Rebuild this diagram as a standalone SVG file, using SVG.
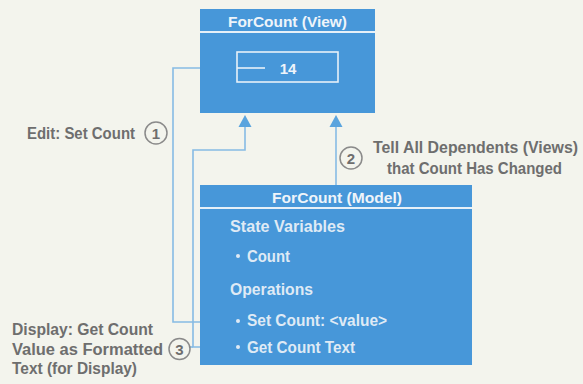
<svg xmlns="http://www.w3.org/2000/svg" width="583" height="384" viewBox="0 0 583 384">
<style>
.box{fill:#4797d9}
.sep{stroke:#e6f0f8;stroke-width:2}
.wt{font-family:"Liberation Sans",Arial,sans-serif;font-weight:bold;fill:#eef4fa}
.mt{font-family:"Liberation Sans",Arial,sans-serif;font-weight:bold;fill:#dfeaf5;font-size:16px}
.lbl{font-family:"Liberation Sans",Arial,sans-serif;font-weight:bold;fill:#6e6e6e;font-size:16px}
.conn{fill:none;stroke:#86bbe4;stroke-width:1.6}
.ah{fill:#5aa4de}
.num{fill:none;stroke:#8a8a8a;stroke-width:1.5}
.numt{font-family:"Liberation Sans",Arial,sans-serif;font-weight:bold;fill:#6e6e6e;font-size:15px;text-anchor:middle}
.dot{fill:#dfeaf5}
</style>
<rect width="583" height="384" fill="#f3f4ed"/>

<g id="connectors">
  <path class="conn" d="M265,68 H173 V322 H218"/>
  <polygon class="ah" points="229,322 215,315 218,322 215,329"/>
  <path class="conn" d="M245,126 V150 H193 V347 H237"/>
  <path class="conn" d="M190,347 H193"/>
  <polygon class="ah" points="245,115 238.5,127 251.5,127"/>
  <path class="conn" d="M336,126 V185"/>
  <polygon class="ah" points="336,115 329.5,127 342.5,127"/>
</g>

<g id="view">
  <rect class="box" x="200" y="9" width="175" height="104"/>
  <line class="sep" x1="200" y1="32" x2="375" y2="32"/>
  <text class="wt" x="228" y="27" font-size="15" textLength="119" lengthAdjust="spacingAndGlyphs">ForCount (View)</text>
  <rect x="237" y="52" width="101" height="30" fill="none" stroke="#e6f0f8" stroke-width="1.6"/>
  <line x1="237" y1="68" x2="265" y2="68" stroke="#e6f0f8" stroke-width="1.6"/>
  <text class="wt" x="288" y="74" font-size="15" text-anchor="middle">14</text>
</g>

<g id="model">
  <rect class="box" x="200" y="185" width="272" height="180"/>
  <line class="sep" x1="200" y1="208" x2="472" y2="208"/>
  <text class="wt" x="272" y="203" font-size="15" textLength="130" lengthAdjust="spacingAndGlyphs">ForCount (Model)</text>
  <text class="mt" x="230" y="232" textLength="115" lengthAdjust="spacingAndGlyphs">State Variables</text>
  <circle class="dot" cx="238" cy="256" r="2"/>
  <text class="mt" x="247" y="262" textLength="43" lengthAdjust="spacingAndGlyphs">Count</text>
  <text class="mt" x="230" y="295" textLength="83" lengthAdjust="spacingAndGlyphs">Operations</text>
  <circle class="dot" cx="238" cy="321" r="2"/>
  <text class="mt" x="247" y="326" textLength="140" lengthAdjust="spacingAndGlyphs">Set Count: &lt;value&gt;</text>
  <circle class="dot" cx="238" cy="347" r="2"/>
  <text class="mt" x="247" y="353" textLength="108" lengthAdjust="spacingAndGlyphs">Get Count Text</text>
</g>

<g id="label1">
  <text class="lbl" x="27" y="139" textLength="108" lengthAdjust="spacingAndGlyphs">Edit: Set Count</text>
  <circle class="num" cx="156" cy="133" r="11"/>
  <text class="numt" x="156" y="138.5">1</text>
</g>

<g id="label2">
  <circle class="num" cx="351" cy="158" r="11"/>
  <text class="numt" x="351" y="163.5">2</text>
  <text class="lbl" x="373" y="153" textLength="205" lengthAdjust="spacingAndGlyphs">Tell All Dependents (Views)</text>
  <text class="lbl" x="387" y="174" textLength="175" lengthAdjust="spacingAndGlyphs">that Count Has Changed</text>
</g>

<g id="label3">
  <text class="lbl" x="12" y="335" textLength="141" lengthAdjust="spacingAndGlyphs">Display: Get Count</text>
  <text class="lbl" x="12" y="355" textLength="151" lengthAdjust="spacingAndGlyphs">Value as Formatted</text>
  <text class="lbl" x="12" y="374" textLength="125" lengthAdjust="spacingAndGlyphs">Text (for Display)</text>
  <circle class="num" cx="179.5" cy="349" r="10.5"/>
  <text class="numt" x="179.5" y="354.5">3</text>
</g>
</svg>
